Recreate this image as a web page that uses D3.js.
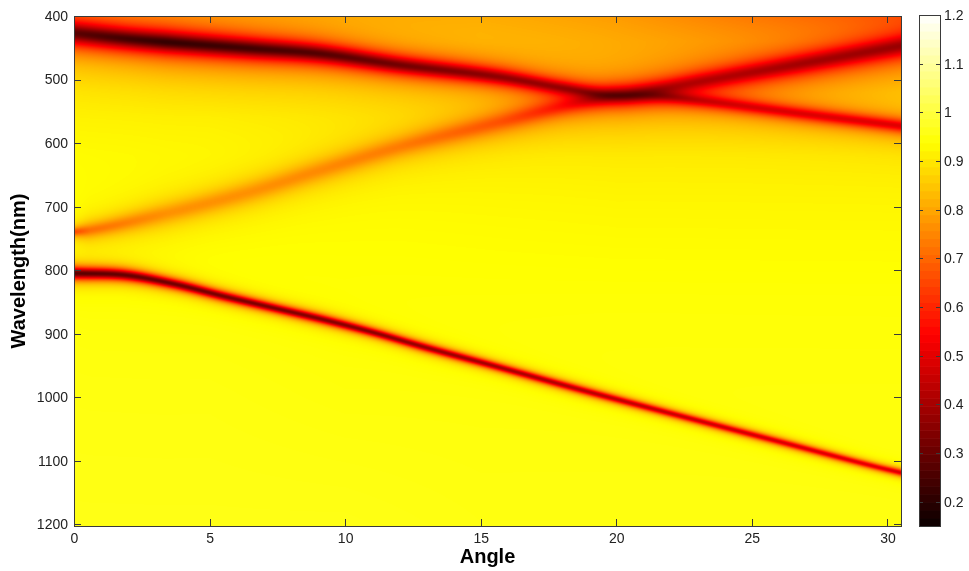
<html>
<style>
  body {
    margin: 0;
    background: #fff;
    font-family: "Liberation Sans", Arial, sans-serif;
  }
  #chart { position: relative; width: 969px; height: 571px; }
  #heat { position: absolute; left: 74px; top: 16px; }
  svg { position: absolute; left: 0; top: 0; }
  .axis path, .axis line { fill: none; stroke: #3a3a3a; shape-rendering: crispEdges; }
  .axis text { font-size: 14px; fill: #222; font-family: "Liberation Sans", Arial, sans-serif; }
</style>
<body>
<div id="chart">
  <canvas id="heat" width="827" height="510"></canvas>
</div>
<script src="https://d3js.org/d3.v7.min.js"></script>
<script>
// tick labels
const angleTicks = [0, 5, 10, 15, 20, 25, 30]
const wlTicks = [400, 500, 600, 700, 800, 900, 1000, 1100, 1200]
const cbTicks = [0.2, 0.3, 0.4, 0.5, 0.6, 0.7, 0.8, 0.9, 1, 1.1, 1.2]
const cbLabels = ["0.2", "0.3", "0.4", "0.5", "0.6", "0.7", "0.8", "0.9", "1", "1.1", "1.2"]

// band A: dark upper band, 427 nm at 0 deg, runs into the crossing and down to ~573 nm
const bandAAngle  = [0, 2, 3.4, 6.5, 9, 12, 15.7, 18.1, 19.6, 21.6, 23.1, 26.7, 30.5]
const bandACenter = [427, 436, 441, 451, 459, 477, 496, 514, 524, 526, 533, 553, 573]
const bandAMin    = [0.28, 0.24, 0.22, 0.24, 0.27, 0.32, 0.37, 0.4, 0.45, 0.48, 0.5, 0.5, 0.5]
const bandAWidth  = [18, 17, 17, 16, 15, 14, 13, 12, 11, 11, 11, 11, 11]

// band B: weak orange band from 740 nm rising to the crossing, then dark up to ~447 nm
const bandBAngle  = [0, 0.6, 3.4, 6.5, 9, 12, 15.7, 18.1, 19.7, 20.5, 23.1, 26.7, 30.5]
const bandBCenter = [740, 737, 711, 677, 644, 606, 567, 541, 527, 523, 503, 476, 447]
const bandBMin    = [0.66, 0.72, 0.77, 0.77, 0.76, 0.74, 0.68, 0.6, 0.52, 0.5, 0.44, 0.4, 0.38]
const bandBWidth  = [7, 12, 18, 19, 19, 18, 18, 16, 15, 15, 16, 17, 18]

// band C: narrow lower band, 805 nm at 0 deg down to ~1119 nm
const bandCAngle  = [0, 1.9, 3.7, 5.5, 7.4, 9.2, 11.1, 12.9, 15.5, 18.65, 22.3, 26, 29.7, 30.5]
const bandCCenter = [805, 808, 822, 841, 860, 878, 899, 921, 951, 988, 1029, 1070, 1111, 1119]
const bandCMin    = [0.28, 0.3, 0.32, 0.33, 0.34, 0.35, 0.36, 0.38, 0.4, 0.43, 0.46, 0.48, 0.5, 0.48]
const bandCWidth  = [12, 11, 10, 9.5, 9, 9, 8.5, 8.5, 8, 8, 7.5, 7.5, 7, 7]

// background transmission away from the bands (rows: wavelength, cols: angle)
const bgAngle = [0, 5, 10, 15, 20, 25, 30.5]
const bgWl = [400, 440, 480, 520, 560, 620, 700, 850, 1000, 1200]
const bgValue = [
  [0.82, 0.83, 0.83, 0.82, 0.79, 0.74, 0.70],
  [0.86, 0.86, 0.86, 0.85, 0.82, 0.80, 0.79],
  [0.90, 0.88, 0.87, 0.86, 0.84, 0.82, 0.84],
  [0.92, 0.91, 0.90, 0.89, 0.86, 0.86, 0.88],
  [0.93, 0.93, 0.92, 0.91, 0.89, 0.89, 0.89],
  [0.94, 0.94, 0.935, 0.93, 0.92, 0.92, 0.92],
  [0.945, 0.945, 0.94, 0.935, 0.93, 0.93, 0.93],
  [0.95, 0.95, 0.945, 0.945, 0.945, 0.945, 0.945],
  [0.955, 0.955, 0.95, 0.95, 0.95, 0.95, 0.95],
  [0.96, 0.96, 0.96, 0.955, 0.955, 0.955, 0.955]
]

// monotone cubic through the read points, so the band centres bend smoothly
const smooth = (xs, ys) => {
  const n = xs.length
  const d = d3.range(n - 1).map(i => (ys[i + 1] - ys[i]) / (xs[i + 1] - xs[i]))
  const m = xs.map((_, i) => {
    if (i === 0) return d[0]
    if (i === n - 1) return d[n - 2]
    return d[i - 1] * d[i] <= 0 ? 0 : (d[i - 1] + d[i]) / 2
  })
  return x => {
    if (x <= xs[0]) return ys[0]
    if (x >= xs[n - 1]) return ys[n - 1]
    const i = d3.bisectRight(xs, x) - 1
    const h = xs[i + 1] - xs[i], t = (x - xs[i]) / h
    const t2 = t * t, t3 = t2 * t
    return (2 * t3 - 3 * t2 + 1) * ys[i] + (t3 - 2 * t2 + t) * h * m[i] +
      (-2 * t3 + 3 * t2) * ys[i + 1] + (t3 - t2) * h * m[i + 1]
  }
}

const bands = [
  {angle: bandAAngle, center: bandACenter, min: bandAMin, width: bandAWidth, p: 1},
  {angle: bandBAngle, center: bandBCenter, min: bandBMin, width: bandBWidth, p: 1},
  {angle: bandCAngle, center: bandCCenter, min: bandCMin, width: bandCWidth, p: 1.6}
]

const pLeft = 74, pRight = 901, pTop = 16, pBottom = 526

const xScale = d3.scaleLinear().domain([0, 30.5]).range([pLeft, pRight])
const yScale = d3.scaleLinear().domain([400, 1203]).range([pTop, pBottom])

// MATLAB "hot" style map, colour limits 0.15 .. 1.2
const [cMin, cMax] = [0.15, 1.2]
const colour = d3.scaleLinear()
    .domain([cMin, cMin + (cMax - cMin) * 0.375, cMin + (cMax - cMin) * 0.75, cMax])
    .range(["#0a0000", "#ff0000", "#ffff00", "#ffffff"])
    .clamp(true)

// lookup table for the canvas
const lut = d3.range(512).map(i => d3.rgb(colour(cMin + (cMax - cMin) * i / 511)))

// per-band functions along angle
bands.forEach(b => {
  b.c = smooth(b.angle, b.center)
  b.m = d3.scaleLinear().domain(b.angle).range(b.min).clamp(true)
  b.w = d3.scaleLinear().domain(b.angle).range(b.width).clamp(true)
})
const bgRows = bgValue.map(row => d3.scaleLinear().domain(bgAngle).range(row).clamp(true))

// draw heat map
const canvas = document.getElementById("heat")
const ctx = canvas.getContext("2d")
const cw = pRight - pLeft, ch = pBottom - pTop
const img = ctx.createImageData(cw, ch)
const wls = d3.range(ch).map(j => yScale.invert(pTop + j + 0.5))

for (let i = 0; i < cw; i++) {
  const a = xScale.invert(pLeft + i + 0.5)
  const col = d3.scaleLinear().domain(bgWl).range(bgRows.map(s => s(a))).clamp(true)
  const bp = bands.map(b => ({c: b.c(a), m: b.m(a), w: b.w(a), p: b.p}))
  for (let j = 0; j < ch; j++) {
    const wl = wls[j]
    const base = col(wl)
    let t = base
    for (const b of bp) {
      const d = (wl - b.c) / b.w
      const L = Math.pow(1 / (1 + d * d), b.p)
      t *= 1 - (1 - b.m / base) * L
    }
    let k = Math.round((t - cMin) / (cMax - cMin) * 511)
    k = Math.max(0, Math.min(511, k))
    const c = lut[k], o = (j * cw + i) * 4
    img.data[o] = c.r; img.data[o + 1] = c.g; img.data[o + 2] = c.b; img.data[o + 3] = 255
  }
}
ctx.putImageData(img, 0, 0)

// axes
const svg = d3.select("#chart").append("svg")
    .attr("width", 969)
    .attr("height", 571)

svg.append("g").attr("class", "axis")
    .attr("transform", `translate(0,${pBottom})`)
    .call(d3.axisBottom(xScale).tickValues(angleTicks).tickSizeInner(-7).tickSizeOuter(0).tickPadding(7))

svg.append("g").attr("class", "axis")
    .attr("transform", `translate(0,${pTop})`)
    .call(d3.axisTop(xScale).tickValues(angleTicks).tickSizeInner(-7).tickSizeOuter(0).tickFormat(""))

svg.append("g").attr("class", "axis")
    .attr("transform", `translate(${pLeft},0)`)
    .call(d3.axisLeft(yScale).tickValues(wlTicks).tickSizeInner(-7).tickSizeOuter(0).tickPadding(6)
      .tickFormat(d3.format("d")))

svg.append("g").attr("class", "axis")
    .attr("transform", `translate(${pRight},0)`)
    .call(d3.axisRight(yScale).tickValues(wlTicks).tickSizeInner(-7).tickSizeOuter(0).tickFormat(""))

svg.append("text")
    .attr("x", (pLeft + pRight) / 2)
    .attr("y", 563)
    .attr("text-anchor", "middle")
    .style("font", "bold 20px 'Liberation Sans', Arial, sans-serif")
    .text("Angle")

svg.append("text")
    .attr("transform", `translate(25,${(pTop + pBottom) / 2}) rotate(-90)`)
    .attr("text-anchor", "middle")
    .style("font", "bold 20px 'Liberation Sans', Arial, sans-serif")
    .text("Wavelength(nm)")

// colour bar
const cbLeft = 919, cbRight = 940
const cbScale = d3.scaleLinear().domain([cMin, cMax]).range([pBottom, 15])
const steps = d3.range(64).map(i => cMin + (cMax - cMin) * (i + 0.5) / 64)
const stepH = (pBottom - 15) / 64

svg.append("g")
  .selectAll("rect")
  .data(steps)
  .join("rect")
    .attr("x", cbLeft)
    .attr("width", cbRight - cbLeft)
    .attr("y", d => cbScale(d) - stepH / 2)
    .attr("height", stepH + 0.6)
    .attr("fill", d => colour(d))

svg.append("g").attr("class", "axis")
    .attr("transform", `translate(${cbRight},0)`)
    .call(d3.axisRight(cbScale).tickValues(cbTicks).tickSizeInner(-4).tickSizeOuter(0).tickPadding(4)
      .tickFormat((d, i) => cbLabels[i]))

svg.append("g").attr("class", "axis")
    .attr("transform", `translate(${cbLeft},0)`)
    .call(d3.axisLeft(cbScale).tickValues(cbTicks).tickSizeInner(-4).tickSizeOuter(0).tickFormat(""))

svg.append("rect")
    .attr("x", cbLeft).attr("y", 15)
    .attr("width", cbRight - cbLeft).attr("height", pBottom - 15)
    .attr("fill", "none").attr("stroke", "#3a3a3a")
    .attr("shape-rendering", "crispEdges")

svg.append("rect")
    .attr("x", pLeft).attr("y", pTop)
    .attr("width", pRight - pLeft).attr("height", pBottom - pTop)
    .attr("fill", "none").attr("stroke", "#3a3a3a")
    .attr("shape-rendering", "crispEdges")
</script>
</body>
</html>
